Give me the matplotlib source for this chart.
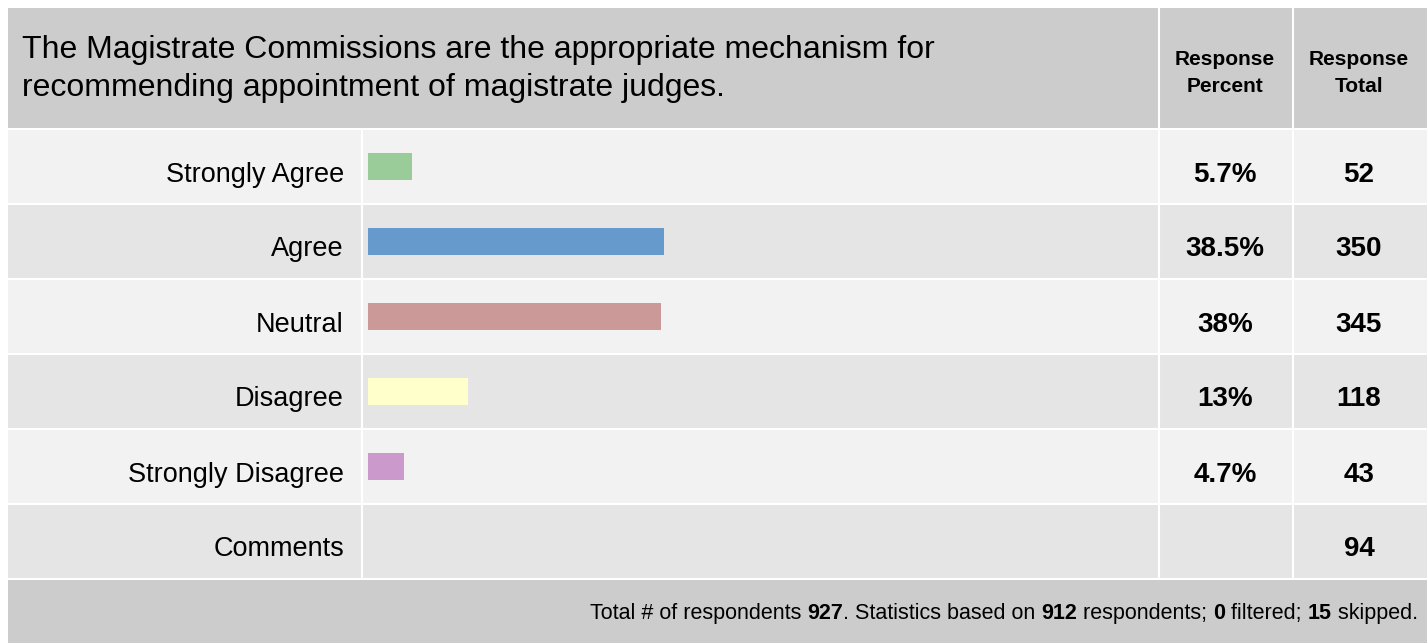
import matplotlib
matplotlib.use("Agg")
import matplotlib.pyplot as plt
from matplotlib.patches import Rectangle

plt.rcParams['font.family'] = ['Liberation Sans', 'DejaVu Sans']

title_lines = ["The Magistrate Commissions are the appropriate mechanism for",
               "recommending appointment of magistrate judges."]
categories = ["Strongly Agree", "Agree", "Neutral", "Disagree", "Strongly Disagree"]
percents = [5.7, 38.5, 38.0, 13.0, 4.7]
pct_labels = ["5.7%", "38.5%", "38%", "13%", "4.7%"]
totals = [52, 350, 345, 118, 43]
comments_total = 94
bar_colors = ["#99cc99", "#6699cc", "#cc9999", "#ffffcc", "#cc99cc"]
footer_parts = [("Total # of respondents ", "normal"), ("927", "bold"),
                (". Statistics based on ", "normal"), ("912", "bold"),
                (" respondents; ", "normal"), ("0", "bold"),
                (" filtered; ", "normal"), ("15", "bold"), (" skipped.", "normal")]

W, H = 1427, 643
fig = plt.figure(figsize=(W / 100, H / 100), dpi=100)
bg = fig.add_axes([0, 0, 1, 1])
bg.set_xlim(0, W)
bg.set_ylim(H, 0)
bg.axis("off")

left, top = 8, 8
head_h = 120
row_h = 75
gap = 2
c1, c2, c3 = 362, 1159, 1293   # column borders
pct_x, tot_x = 1225, 1359

# header
bg.add_patch(Rectangle((left, top), W - left, head_h, color="#cccccc", lw=0))
bg.text(22, 58, title_lines[0], fontsize=23, va="baseline", ha="left")
bg.text(22, 96, title_lines[1], fontsize=23, va="baseline", ha="left")
bg.text(pct_x, 65, "Response", fontsize=15, weight="bold", ha="center", va="baseline")
bg.text(pct_x, 92, "Percent", fontsize=15, weight="bold", ha="center", va="baseline")
bg.text(tot_x, 65, "Response", fontsize=15, weight="bold", ha="center", va="baseline")
bg.text(tot_x, 92, "Total", fontsize=15, weight="bold", ha="center", va="baseline")

rows = categories + ["Comments"]
y0 = top + head_h + gap
for i, name in enumerate(rows):
    y = y0 + i * row_h
    col = "#f2f2f2" if i % 2 == 0 else "#e5e5e5"
    bg.add_patch(Rectangle((left, y), W - left, row_h - gap, color=col, lw=0))
    yc = y + (row_h - gap) / 2
    bg.text(344, yc + 15, name, fontsize=19.5, ha="right", va="baseline")
    if i < len(categories):
        bg.text(pct_x, yc + 15, pct_labels[i], fontsize=20, weight="bold", ha="center", va="baseline")
        bg.text(tot_x, yc + 15, str(totals[i]), fontsize=20, weight="bold", ha="center", va="baseline")
    else:
        bg.text(tot_x, yc + 15, str(comments_total), fontsize=20, weight="bold", ha="center", va="baseline")

# vertical white lines
for xv in (c1, c2, c3):
    ytop = y0 if xv == c1 else top
    bg.plot([xv, xv], [ytop, y0 + len(rows) * row_h - gap], color="white", lw=1.5)

# footer
fy = y0 + len(rows) * row_h
bg.add_patch(Rectangle((left, fy), W - left, H - fy, color="#cccccc", lw=0))
prev = None
for txt, wt in reversed(footer_parts):
    if prev is None:
        prev = bg.text(1418, 619, txt, fontsize=15.5, weight=wt, ha="right", va="baseline")
    else:
        prev = bg.annotate(txt, xy=(0, 0), xycoords=prev, ha="right", va="bottom",
                           fontsize=15.5, weight=wt)

# bars in their own axes over the bar column
ax_top = y0
ax_bot = y0 + len(categories) * row_h
bx0 = 368
px_per_pct = 7.7
ax = fig.add_axes([bx0 / W, 1 - ax_bot / H, (c2 - bx0) / W, (ax_bot - ax_top) / H])
ax.patch.set_alpha(0)
ax.barh(range(len(categories)), percents, height=0.36, color=bar_colors)
ax.set_xlim(0, (c2 - bx0) / px_per_pct)
ax.set_ylim(len(categories) - 0.5 + gap / row_h / 2, -0.5 + gap / row_h / 2)
ax.axis("off")

fig.savefig("out.png", dpi=100)
